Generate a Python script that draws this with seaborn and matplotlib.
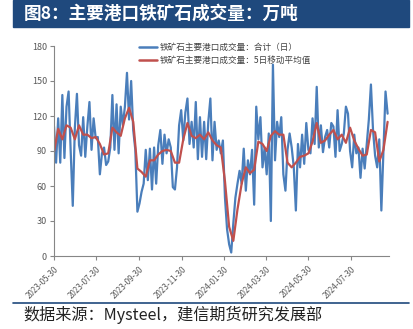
import matplotlib
matplotlib.use("Agg")
import matplotlib.pyplot as plt
import seaborn as sns
import pandas as pd

# ---------------- data ----------------
series_daily = "铁矿石主要港口成交量：合计（日）"
series_ma5 = "铁矿石主要港口成交量：5日移动平均值"

# blue series, one reading every 3 days starting 2023-05-30 (万吨)
daily_values = [
    111, 80, 118, 80, 138, 84, 128, 141, 90, 43,
    110, 139, 95, 86, 119, 85, 111, 132, 91, 118,
    101, 102, 70, 88, 93, 78, 81, 93, 138, 91,
    130, 88, 128, 112, 128, 157, 117, 150, 108, 91,
    38, 45, 55, 62, 91, 65, 92, 57, 93, 62,
    95, 108, 79, 104, 88, 100, 93, 59, 57, 76,
    112, 125, 99, 123, 135, 96, 115, 93, 132, 83,
    119, 85, 115, 83, 115, 135, 82, 115, 91, 99,
    88, 99, 50, 23, 10, 3, 28, 50, 62, 73,
    62, 92, 56, 82, 70, 91, 44, 128, 100, 119,
    76, 93, 70, 105, 30, 164, 82, 115, 102, 119,
    70, 56, 91, 105, 93, 76, 39, 96, 76, 104,
    79, 114, 91, 88, 118, 96, 145, 93, 112, 89,
    102, 108, 93, 114, 111, 85, 125, 90, 96, 105,
    128, 122, 90, 76, 104, 88, 93, 67, 92, 75,
    96, 117, 147, 108, 86, 76, 100, 39, 91, 141,
    122,
]
# red series (5-day moving average), one reading every 6 days
ma5_values = [
    89, 109, 100, 112, 110, 100, 112, 104, 104, 101,
    102, 96, 87, 88, 110, 106, 103, 118, 127, 115,
    75, 72, 68, 82, 82, 87, 90, 91, 90, 80,
    80, 100, 114, 103, 101, 104, 100, 106, 99, 95,
    93, 64, 25, 13, 40, 62, 76, 71, 74, 98,
    96, 90, 103, 107, 104, 104, 80, 76, 80, 85,
    86, 88, 98, 114, 97, 99, 104, 108, 100, 104,
    97, 110, 99, 92, 86, 87, 108, 106, 81, 91,
    115,
]
start_date = "2023-05-30"
tick_labels = ["2023-05-30", "2023-07-30", "2023-09-30", "2023-11-30",
               "2024-01-30", "2024-03-30", "2024-05-30", "2024-07-30"]
y_ticks = [0, 30, 60, 90, 120, 150, 180]

title_text = "图8：主要港口铁矿石成交量：万吨"
source_text = "数据来源：Mysteel，建信期货研究发展部"

# ---------------- frames ----------------
df_daily = pd.DataFrame({
    "date": pd.date_range(start_date, periods=len(daily_values), freq="3D"),
    "value": daily_values, "series": series_daily})
df_ma = pd.DataFrame({
    "date": pd.date_range(start_date, periods=len(ma5_values), freq="6D"),
    "value": ma5_values, "series": series_ma5})
df = pd.concat([df_daily, df_ma], ignore_index=True)

# ---------------- style ----------------
sns.set_theme(style="white")
plt.rcParams["font.family"] = ["Noto Sans CJK SC", "DejaVu Sans"]

W, H = 413, 329
fig = plt.figure(figsize=(W / 100, H / 100), dpi=100)
ax = fig.add_axes([54 / W, 1 - 256 / H, (389 - 54) / W, (256 - 46) / H])

palette = {series_daily: "#4A7EBB", series_ma5: "#C0504D"}
sns.lineplot(data=df, x="date", y="value", hue="series", palette=palette,
             ax=ax, linewidth=1.6, estimator=None, sort=False)

ax.set_ylim(0, 180)
ax.set_yticks(y_ticks)
ax.set_xlim(pd.Timestamp(start_date), pd.Timestamp("2024-09-23"))
ax.set_xticks([pd.Timestamp(t) for t in tick_labels])
ax.set_xticklabels(tick_labels, rotation=45, ha="right", va="top",
                   rotation_mode="anchor", fontsize=5.8, color="#595959")
ax.tick_params(axis="y", labelsize=6.5, labelcolor="#595959", length=3,
               width=0.8, color="#868686", pad=2, left=True)
ax.tick_params(axis="x", length=3, width=0.8, color="#868686", pad=3, bottom=True)
ax.set_xlabel("")
ax.set_ylabel("")
for s in ["top", "right"]:
    ax.spines[s].set_visible(False)
for s in ["left", "bottom"]:
    ax.spines[s].set_color("#868686")
    ax.spines[s].set_linewidth(0.8)

leg = ax.legend(loc="upper left", bbox_to_anchor=((136 - 54) / 335, 1.03),
                frameon=False, fontsize=6.2, handlelength=2.0,
                handletextpad=0.4, labelspacing=0.45, borderaxespad=0)
for t in leg.get_texts():
    t.set_color("#404040")
for l in leg.get_lines():
    l.set_linewidth(1.8)

# ---------------- title banner and footer ----------------
fig.patches.append(plt.Rectangle((13 / W, 1 - 27 / H), (409 - 13) / W, 27 / H,
                                 transform=fig.transFigure, color="#1F497D",
                                 zorder=0))
fig.text(24 / W, 1 - 14 / H, title_text, color="white", fontsize=12.7,
         fontweight="bold", va="center", ha="left")
fig.add_artist(plt.Line2D([13 / W, 409 / W], [1 - 302.5 / H, 1 - 302.5 / H],
                          transform=fig.transFigure, color="#1F497D",
                          linewidth=1.2))
fig.text(23 / W, 1 - 315 / H, source_text, color="#222222", fontsize=11.6,
         style="italic", va="center", ha="left")

fig.savefig("out.png", dpi=100)
